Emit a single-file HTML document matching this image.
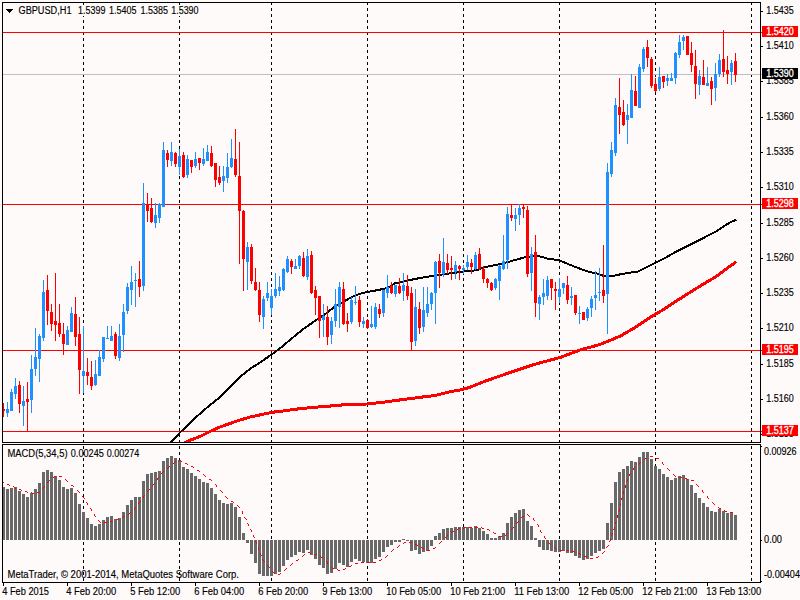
<!DOCTYPE html>
<html><head><meta charset="utf-8"><title>GBPUSD,H1</title>
<style>html,body{margin:0;padding:0;background:#FEFAF9;overflow:hidden}svg{display:block}text{font-family:"Liberation Sans",sans-serif;font-size:10px;fill:#000;stroke:#000;stroke-width:0.15px}</style>
</head><body>
<svg width="800" height="600" viewBox="0 0 800 600">
<g shape-rendering="crispEdges">
<rect x="0" y="0" width="800" height="600" fill="#FEFAF9"/>
<line x1="83.5" y1="2" x2="83.5" y2="442" stroke="#000" stroke-width="1" stroke-dasharray="3,3"/>
<line x1="83.5" y1="446" x2="83.5" y2="582" stroke="#000" stroke-width="1" stroke-dasharray="3,3"/>
<line x1="179.5" y1="2" x2="179.5" y2="442" stroke="#000" stroke-width="1" stroke-dasharray="3,3"/>
<line x1="179.5" y1="446" x2="179.5" y2="582" stroke="#000" stroke-width="1" stroke-dasharray="3,3"/>
<line x1="271.5" y1="2" x2="271.5" y2="442" stroke="#000" stroke-width="1" stroke-dasharray="3,3"/>
<line x1="271.5" y1="446" x2="271.5" y2="582" stroke="#000" stroke-width="1" stroke-dasharray="3,3"/>
<line x1="367.5" y1="2" x2="367.5" y2="442" stroke="#000" stroke-width="1" stroke-dasharray="3,3"/>
<line x1="367.5" y1="446" x2="367.5" y2="582" stroke="#000" stroke-width="1" stroke-dasharray="3,3"/>
<line x1="463.5" y1="2" x2="463.5" y2="442" stroke="#000" stroke-width="1" stroke-dasharray="3,3"/>
<line x1="463.5" y1="446" x2="463.5" y2="582" stroke="#000" stroke-width="1" stroke-dasharray="3,3"/>
<line x1="559.5" y1="2" x2="559.5" y2="442" stroke="#000" stroke-width="1" stroke-dasharray="3,3"/>
<line x1="559.5" y1="446" x2="559.5" y2="582" stroke="#000" stroke-width="1" stroke-dasharray="3,3"/>
<line x1="655.5" y1="2" x2="655.5" y2="442" stroke="#000" stroke-width="1" stroke-dasharray="3,3"/>
<line x1="655.5" y1="446" x2="655.5" y2="582" stroke="#000" stroke-width="1" stroke-dasharray="3,3"/>
<line x1="751.5" y1="2" x2="751.5" y2="442" stroke="#000" stroke-width="1" stroke-dasharray="3,3"/>
<line x1="751.5" y1="446" x2="751.5" y2="582" stroke="#000" stroke-width="1" stroke-dasharray="3,3"/>
<rect x="3" y="74" width="759" height="1" fill="#C0C0C0"/>
<rect x="3" y="32" width="759" height="1" fill="#FF0000"/>
<rect x="3" y="204" width="759" height="1" fill="#FF0000"/>
<rect x="3" y="350" width="759" height="1" fill="#FF0000"/>
<rect x="3" y="431" width="759" height="1" fill="#FF0000"/>
<clipPath id="mc"><rect x="3" y="3" width="757" height="439"/></clipPath>
<polyline clip-path="url(#mc)" points="184,443 188,441 200,436.5 210,431.5 220,427 230,423.5 240,420 251,416.8 263,414.25 272,412.3 281,411.25 297.5,409 315,407.25 332.5,405.85 350,404.2 367.5,404 385,402 402.5,399.6 420,397.3 435,395.5 450,391.75 460,390 470,387.3 485,381.25 510,372.5 535,364.25 560,357.5 580,350 600,344.5 620,336.25 635,327.5 650,317.5 663.3,309.65 677.3,300.4 691.3,291.6 705.3,282.9 715.8,276.75 726.3,268.9 736.3,261.7" fill="none" stroke="#FF0000" stroke-width="3" stroke-linejoin="round"/>
<polyline clip-path="url(#mc)" points="169.8,443 171,442 180,432.5 193,420 204,410 209,406 221,396.25 233,384.25 241.25,376 249.5,369.25 260,362.5 272,354.25 281,347.5 292,338.25 304,328.5 316,320.25 325,314.2 334,307.2 343,301.8 352,297 359.5,294 365.5,292.3 373,291 382,289.2 388,287.7 391.5,285.5 394.5,283.5 400,282.5 405,281 420,278 435,275.6 450,273.35 465,271.4 477,270.2 483,267.65 495,265.1 500,264.1 509,261.7 518,259.15 525.5,257.2 537.5,255.7 548,258.7 559.25,260.2 567.5,263.8 578,268 588.5,271.75 596,273.25 603.5,275.8 611,276.25 624,273.6 638,271.5 655.5,262.75 666,257.5 676.5,251.4 690.5,244.4 704.5,237.4 715,232.1 725.5,225.1 732,221.5 736.3,219.9" fill="none" stroke="#000" stroke-width="2" stroke-linejoin="round"/>
<path d="M7 402h1v15h-1zM6 409h3v4h-3zM11 389h1v22h-1zM10 392h3v19h-3zM15 378h1v21h-1zM14 386h3v8h-3zM23 386h1v40h-1zM22 401h3v5h-3zM31 355h1v58h-1zM30 369h3v31h-3zM35 328h1v48h-1zM34 357h3v12h-3zM39 334h1v48h-1zM38 336h3v23h-3zM43 280h1v61h-1zM42 292h3v46h-3zM67 326h1v19h-1zM66 330h3v15h-3zM71 307h1v25h-1zM70 313h3v19h-3zM83 326h1v67h-1zM82 371h3v5h-3zM95 360h1v26h-1zM94 374h3v11h-3zM99 350h1v26h-1zM98 357h3v19h-3zM103 337h1v25h-1zM102 337h3v22h-3zM107 326h1v13h-1zM106 338h3v1h-3zM111 326h1v15h-1zM110 336h3v5h-3zM119 324h1v37h-1zM118 336h3v22h-3zM123 304h1v48h-1zM122 312h3v23h-3zM127 283h1v31h-1zM126 287h3v24h-3zM131 266h1v39h-1zM130 282h3v8h-3zM135 273h1v34h-1zM134 280h3v1h-3zM143 183h1v108h-1zM142 203h3v83h-3zM155 203h1v25h-1zM154 215h3v8h-3zM159 203h1v20h-1zM158 204h3v14h-3zM163 142h1v65h-1zM162 150h3v57h-3zM171 142h1v24h-1zM170 152h3v9h-3zM179 149h1v26h-1zM178 156h3v11h-3zM187 155h1v23h-1zM186 159h3v16h-3zM195 152h1v16h-1zM194 159h3v7h-3zM203 148h1v18h-1zM202 159h3v5h-3zM207 145h1v16h-1zM206 152h3v9h-3zM223 166h1v26h-1zM222 176h3v5h-3zM227 153h1v30h-1zM226 167h3v11h-3zM231 139h1v29h-1zM230 158h3v9h-3zM247 242h1v48h-1zM246 247h3v15h-3zM263 296h1v33h-1zM262 299h3v18h-3zM267 282h1v19h-1zM266 293h3v5h-3zM271 289h1v26h-1zM270 296h3v12h-3zM275 273h1v25h-1zM274 289h3v7h-3zM279 276h1v20h-1zM278 287h3v4h-3zM283 268h1v23h-1zM282 269h3v21h-3zM287 256h1v17h-1zM286 259h3v13h-3zM295 259h1v10h-1zM294 266h3v3h-3zM299 255h1v14h-1zM298 256h3v10h-3zM307 249h1v31h-1zM306 256h3v21h-3zM323 304h1v33h-1zM322 316h3v4h-3zM331 317h1v27h-1zM330 321h3v14h-3zM335 289h1v38h-1zM334 304h3v17h-3zM339 282h1v46h-1zM338 287h3v20h-3zM351 297h1v27h-1zM350 300h3v22h-3zM355 286h1v19h-1zM354 302h3v1h-3zM363 317h1v11h-1zM362 321h3v3h-3zM371 306h1v22h-1zM370 324h3v3h-3zM375 303h1v26h-1zM374 307h3v20h-3zM383 290h1v27h-1zM382 290h3v23h-3zM387 275h1v23h-1zM386 287h3v6h-3zM395 285h1v12h-1zM394 285h3v9h-3zM403 273h1v28h-1zM402 285h3v6h-3zM415 289h1v57h-1zM414 307h3v34h-3zM423 287h1v45h-1zM422 310h3v17h-3zM427 287h1v30h-1zM426 304h3v9h-3zM431 292h1v18h-1zM430 293h3v11h-3zM435 261h1v63h-1zM434 262h3v31h-3zM443 238h1v39h-1zM442 262h3v12h-3zM455 261h1v18h-1zM454 265h3v7h-3zM463 265h1v9h-1zM462 268h3v2h-3zM467 255h1v15h-1zM466 262h3v5h-3zM475 252h1v18h-1zM474 255h3v14h-3zM495 278h1v12h-1zM494 279h3v9h-3zM499 265h1v35h-1zM498 266h3v15h-3zM503 235h1v35h-1zM502 261h3v8h-3zM507 207h1v62h-1zM506 214h3v46h-3zM515 208h1v23h-1zM514 215h3v4h-3zM519 204h1v21h-1zM518 208h3v7h-3zM531 247h1v44h-1zM530 254h3v19h-3zM539 295h1v25h-1zM538 297h3v7h-3zM543 279h1v26h-1zM542 293h3v4h-3zM547 276h1v24h-1zM546 280h3v16h-3zM559 278h1v25h-1zM558 289h3v8h-3zM563 283h1v11h-1zM562 283h3v5h-3zM571 287h1v18h-1zM570 296h3v2h-3zM579 306h1v18h-1zM578 313h3v1h-3zM587 307h1v14h-1zM586 309h3v9h-3zM591 296h1v21h-1zM590 299h3v9h-3zM595 271h1v39h-1zM594 295h3v3h-3zM599 268h1v33h-1zM598 292h3v1h-3zM607 163h1v171h-1zM606 172h3v122h-3zM611 142h1v35h-1zM610 150h3v24h-3zM615 98h1v58h-1zM614 105h3v48h-3zM627 104h1v40h-1zM626 115h3v5h-3zM631 74h1v44h-1zM630 90h3v28h-3zM639 64h1v44h-1zM638 67h3v41h-3zM643 47h1v25h-1zM642 49h3v20h-3zM659 67h1v24h-1zM658 77h3v12h-3zM667 74h1v12h-1zM666 78h3v3h-3zM671 73h1v8h-1zM670 78h3v3h-3zM675 52h1v32h-1zM674 53h3v25h-3zM679 35h1v23h-1zM678 42h3v13h-3zM683 35h1v15h-1zM682 37h3v4h-3zM699 70h1v25h-1zM698 76h3v9h-3zM707 67h1v19h-1zM706 83h3v3h-3zM715 63h1v38h-1zM714 74h3v14h-3zM719 54h1v23h-1zM718 60h3v14h-3zM731 60h1v25h-1zM730 63h3v9h-3z" fill="#1E90FF"/>
<path d="M3 403h1v14h-1zM2 409h3v2h-3zM19 381h1v32h-1zM18 385h3v19h-3zM27 382h1v49h-1zM26 399h3v3h-3zM47 275h1v50h-1zM46 290h3v21h-3zM51 304h1v27h-1zM50 312h3v12h-3zM55 273h1v68h-1zM54 321h3v4h-3zM59 304h1v33h-1zM58 323h3v11h-3zM63 323h1v32h-1zM62 334h3v10h-3zM75 297h1v49h-1zM74 314h3v23h-3zM79 317h1v77h-1zM78 334h3v36h-3zM87 358h1v27h-1zM86 372h3v4h-3zM91 361h1v29h-1zM90 377h3v9h-3zM115 332h1v27h-1zM114 334h3v22h-3zM139 261h1v36h-1zM138 279h3v8h-3zM147 193h1v29h-1zM146 205h3v6h-3zM151 198h1v25h-1zM150 208h3v14h-3zM167 150h1v17h-1zM166 153h3v7h-3zM175 152h1v15h-1zM174 153h3v11h-3zM183 152h1v26h-1zM182 155h3v22h-3zM191 160h1v13h-1zM190 160h3v7h-3zM199 158h1v12h-1zM198 158h3v5h-3zM211 146h1v21h-1zM210 153h3v13h-3zM215 163h1v24h-1zM214 163h3v17h-3zM219 166h1v19h-1zM218 177h3v6h-3zM235 129h1v48h-1zM234 159h3v16h-3zM239 142h1v122h-1zM238 176h3v35h-3zM243 210h1v81h-1zM242 211h3v48h-3zM251 244h1v40h-1zM250 247h3v34h-3zM255 268h1v23h-1zM254 282h3v8h-3zM259 282h1v40h-1zM258 290h3v25h-3zM291 259h1v15h-1zM290 261h3v6h-3zM303 252h1v25h-1zM302 258h3v18h-3zM311 251h1v43h-1zM310 255h3v38h-3zM315 286h1v29h-1zM314 290h3v8h-3zM319 296h1v42h-1zM318 296h3v25h-3zM327 306h1v39h-1zM326 317h3v20h-3zM343 282h1v43h-1zM342 289h3v35h-3zM347 313h1v19h-1zM346 321h3v3h-3zM359 296h1v31h-1zM358 300h3v22h-3zM367 319h1v10h-1zM366 320h3v8h-3zM379 304h1v14h-1zM378 309h3v5h-3zM391 282h1v12h-1zM390 286h3v7h-3zM399 278h1v16h-1zM398 286h3v7h-3zM407 275h1v25h-1zM406 286h3v10h-3zM411 287h1v63h-1zM410 293h3v49h-3zM419 302h1v32h-1zM418 309h3v19h-3zM439 254h1v34h-1zM438 261h3v12h-3zM447 254h1v20h-1zM446 263h3v7h-3zM451 256h1v24h-1zM450 268h3v2h-3zM459 265h1v15h-1zM458 266h3v3h-3zM471 259h1v15h-1zM470 263h3v4h-3zM479 248h1v22h-1zM478 254h3v15h-3zM483 266h1v17h-1zM482 269h3v10h-3zM487 278h1v10h-1zM486 279h3v4h-3zM491 282h1v9h-1zM490 283h3v7h-3zM511 204h1v17h-1zM510 215h3v3h-3zM523 204h1v14h-1zM522 207h3v2h-3zM527 206h1v71h-1zM526 210h3v64h-3zM535 235h1v82h-1zM534 252h3v51h-3zM551 279h1v21h-1zM550 279h3v9h-3zM555 282h1v28h-1zM554 289h3v2h-3zM567 276h1v28h-1zM566 285h3v15h-3zM575 295h1v20h-1zM574 295h3v18h-3zM583 312h1v8h-1zM582 312h3v8h-3zM603 245h1v58h-1zM602 290h3v6h-3zM619 78h1v56h-1zM618 107h3v8h-3zM623 100h1v26h-1zM622 112h3v13h-3zM635 76h1v30h-1zM634 91h3v15h-3zM647 40h1v27h-1zM646 47h3v11h-3zM651 57h1v31h-1zM650 59h3v27h-3zM655 78h1v14h-1zM654 84h3v7h-3zM663 76h1v12h-1zM662 76h3v6h-3zM687 36h1v19h-1zM686 36h3v19h-3zM691 42h1v30h-1zM690 53h3v12h-3zM695 50h1v49h-1zM694 66h3v18h-3zM703 60h1v25h-1zM702 77h3v8h-3zM711 77h1v28h-1zM710 81h3v8h-3zM723 30h1v47h-1zM722 59h3v13h-3zM727 56h1v28h-1zM726 70h3v4h-3zM735 53h1v29h-1zM734 61h3v14h-3z" fill="#FF0000"/>
<path d="M2 487h3v53h-3zM6 489h3v51h-3zM10 488h3v52h-3zM14 487h3v53h-3zM18 491h3v49h-3zM22 494h3v46h-3zM26 497h3v43h-3zM30 493h3v47h-3zM34 489h3v51h-3zM38 483h3v57h-3zM42 472h3v68h-3zM46 470h3v70h-3zM50 472h3v68h-3zM54 476h3v64h-3zM58 480h3v60h-3zM62 487h3v53h-3zM66 489h3v51h-3zM70 488h3v52h-3zM74 493h3v47h-3zM78 504h3v36h-3zM82 512h3v28h-3zM86 518h3v22h-3zM90 524h3v16h-3zM94 526h3v14h-3zM98 524h3v16h-3zM102 520h3v20h-3zM106 517h3v23h-3zM110 516h3v24h-3zM114 519h3v21h-3zM118 518h3v22h-3zM122 512h3v28h-3zM126 505h3v35h-3zM130 500h3v40h-3zM134 497h3v43h-3zM138 497h3v43h-3zM142 481h3v59h-3zM146 474h3v66h-3zM150 473h3v67h-3zM154 472h3v68h-3zM158 471h3v69h-3zM162 461h3v79h-3zM166 458h3v82h-3zM170 456h3v84h-3zM174 458h3v82h-3zM178 460h3v80h-3zM182 467h3v73h-3zM186 469h3v71h-3zM190 473h3v67h-3zM194 476h3v64h-3zM198 479h3v61h-3zM202 482h3v58h-3zM206 483h3v57h-3zM210 488h3v52h-3zM214 494h3v46h-3zM218 500h3v40h-3zM222 503h3v37h-3zM226 504h3v36h-3zM230 503h3v37h-3zM234 507h3v33h-3zM238 517h3v23h-3zM242 533h3v7h-3zM246 540h3v3h-3zM250 540h3v14h-3zM254 540h3v23h-3zM258 540h3v34h-3zM262 540h3v36h-3zM266 540h3v36h-3zM270 540h3v36h-3zM274 540h3v34h-3zM278 540h3v32h-3zM282 540h3v26h-3zM286 540h3v20h-3zM290 540h3v17h-3zM294 540h3v15h-3zM298 540h3v12h-3zM302 540h3v13h-3zM306 540h3v10h-3zM310 540h3v15h-3zM314 540h3v19h-3zM318 540h3v25h-3zM322 540h3v28h-3zM326 540h3v34h-3zM330 540h3v33h-3zM334 540h3v29h-3zM338 540h3v23h-3zM342 540h3v25h-3zM346 540h3v27h-3zM350 540h3v22h-3zM354 540h3v19h-3zM358 540h3v21h-3zM362 540h3v22h-3zM366 540h3v23h-3zM370 540h3v23h-3zM374 540h3v19h-3zM378 540h3v17h-3zM382 540h3v12h-3zM386 540h3v7h-3zM390 540h3v5h-3zM394 540h3v2h-3zM398 540h3v2h-3zM402 539h3v1h-3zM406 540h3v1h-3zM410 540h3v11h-3zM414 540h3v10h-3zM418 540h3v14h-3zM422 540h3v12h-3zM426 540h3v11h-3zM430 540h3v6h-3zM434 536h3v4h-3zM438 533h3v7h-3zM442 529h3v11h-3zM446 528h3v12h-3zM450 528h3v12h-3zM454 527h3v13h-3zM458 527h3v13h-3zM462 527h3v13h-3zM466 527h3v13h-3zM470 528h3v12h-3zM474 526h3v14h-3zM478 528h3v12h-3zM482 531h3v9h-3zM486 534h3v6h-3zM490 538h3v2h-3zM494 538h3v2h-3zM498 536h3v4h-3zM502 533h3v7h-3zM506 523h3v17h-3zM510 517h3v23h-3zM514 513h3v27h-3zM518 510h3v30h-3zM522 509h3v31h-3zM526 521h3v19h-3zM530 526h3v14h-3zM534 538h3v2h-3zM538 540h3v7h-3zM542 540h3v10h-3zM546 540h3v10h-3zM550 540h3v11h-3zM554 540h3v12h-3zM558 540h3v12h-3zM562 540h3v11h-3zM566 540h3v13h-3zM570 540h3v13h-3zM574 540h3v16h-3zM578 540h3v18h-3zM582 540h3v20h-3zM586 540h3v19h-3zM590 540h3v16h-3zM594 540h3v13h-3zM598 540h3v11h-3zM602 540h3v9h-3zM606 523h3v17h-3zM610 503h3v37h-3zM614 482h3v58h-3zM618 472h3v68h-3zM622 469h3v71h-3zM626 466h3v74h-3zM630 461h3v79h-3zM634 462h3v78h-3zM638 457h3v83h-3zM642 452h3v88h-3zM646 452h3v88h-3zM650 459h3v81h-3zM654 466h3v74h-3zM658 469h3v71h-3zM662 474h3v66h-3zM666 477h3v63h-3zM670 480h3v60h-3zM674 478h3v62h-3zM678 476h3v64h-3zM682 475h3v65h-3zM686 479h3v61h-3zM690 485h3v55h-3zM694 493h3v47h-3zM698 498h3v42h-3zM702 503h3v37h-3zM706 507h3v33h-3zM710 511h3v29h-3zM714 512h3v28h-3zM718 509h3v31h-3zM722 511h3v29h-3zM726 513h3v27h-3zM730 513h3v27h-3zM734 515h3v25h-3z" fill="#696969"/>
<path d="M3 482h1v1h-1zM7 484h1v1h-1zM8 484h1v1h-1zM9 485h1v1h-1zM13 486h1v1h-1zM14 487h1v1h-1zM15 488h1v1h-1zM19 489h1v1h-1zM20 489h1v1h-1zM21 490h1v1h-1zM25 491h1v1h-1zM26 491h1v1h-1zM27 492h1v1h-1zM31 492h1v1h-1zM32 493h1v1h-1zM33 493h1v1h-1zM37 492h1v1h-1zM38 492h1v1h-1zM39 492h1v1h-1zM42 488h1v1h-1zM43 487h1v1h-1zM44 486h1v1h-1zM47 482h1v1h-1zM48 481h1v1h-1zM49 480h1v1h-1zM53 477h1v1h-1zM54 476h1v1h-1zM55 476h1v1h-1zM59 476h1v1h-1zM60 476h1v1h-1zM61 476h1v1h-1zM65 479h1v1h-1zM66 480h1v1h-1zM67 481h1v1h-1zM71 485h1v1h-1zM72 485h1v1h-1zM73 486h1v1h-1zM77 490h1v1h-1zM78 491h1v1h-1zM79 492h1v1h-1zM82 496h1v1h-1zM83 497h1v1h-1zM84 498h1v1h-1zM86 502h1v1h-1zM87 503h1v1h-1zM87 504h1v1h-1zM90 508h1v1h-1zM91 509h1v1h-1zM91 510h1v1h-1zM94 514h1v1h-1zM94 515h1v1h-1zM95 516h1v1h-1zM98 520h1v1h-1zM99 521h1v1h-1zM100 522h1v1h-1zM104 522h1v1h-1zM105 522h1v1h-1zM106 522h1v1h-1zM110 521h1v1h-1zM111 521h1v1h-1zM112 521h1v1h-1zM116 519h1v1h-1zM117 519h1v1h-1zM118 518h1v1h-1zM122 517h1v1h-1zM123 516h1v1h-1zM124 516h1v1h-1zM128 514h1v1h-1zM129 513h1v1h-1zM130 512h1v1h-1zM134 509h1v1h-1zM134 508h1v1h-1zM135 507h1v1h-1zM138 503h1v1h-1zM139 502h1v1h-1zM140 501h1v1h-1zM143 497h1v1h-1zM143 496h1v1h-1zM144 495h1v1h-1zM147 491h1v1h-1zM148 490h1v1h-1zM149 489h1v1h-1zM152 485h1v1h-1zM153 484h1v1h-1zM154 483h1v1h-1zM157 479h1v1h-1zM157 478h1v1h-1zM158 477h1v1h-1zM161 473h1v1h-1zM162 472h1v1h-1zM163 471h1v1h-1zM167 468h1v1h-1zM168 467h1v1h-1zM169 466h1v1h-1zM173 463h1v1h-1zM174 462h1v1h-1zM175 461h1v1h-1zM179 460h1v1h-1zM180 460h1v1h-1zM181 461h1v1h-1zM185 463h1v1h-1zM186 463h1v1h-1zM187 464h1v1h-1zM191 466h1v1h-1zM192 466h1v1h-1zM193 467h1v1h-1zM197 470h1v1h-1zM198 470h1v1h-1zM199 471h1v1h-1zM203 474h1v1h-1zM204 475h1v1h-1zM205 476h1v1h-1zM209 479h1v1h-1zM210 479h1v1h-1zM211 480h1v1h-1zM215 484h1v1h-1zM216 485h1v1h-1zM216 486h1v1h-1zM220 490h1v1h-1zM221 491h1v1h-1zM222 492h1v1h-1zM225 496h1v1h-1zM226 497h1v1h-1zM227 498h1v1h-1zM231 501h1v1h-1zM232 501h1v1h-1zM233 502h1v1h-1zM237 505h1v1h-1zM238 506h1v1h-1zM239 507h1v1h-1zM242 511h1v1h-1zM242 512h1v1h-1zM242 513h1v1h-1zM244 517h1v1h-1zM245 518h1v1h-1zM246 519h1v1h-1zM247 523h1v1h-1zM248 524h1v1h-1zM248 525h1v1h-1zM250 529h1v1h-1zM251 530h1v1h-1zM251 531h1v1h-1zM253 535h1v1h-1zM253 536h1v1h-1zM254 537h1v1h-1zM255 541h1v1h-1zM256 542h1v1h-1zM256 543h1v1h-1zM258 547h1v1h-1zM258 548h1v1h-1zM258 549h1v1h-1zM260 553h1v1h-1zM260 554h1v1h-1zM261 555h1v1h-1zM262 559h1v1h-1zM263 560h1v1h-1zM264 561h1v1h-1zM267 565h1v1h-1zM268 566h1v1h-1zM269 567h1v1h-1zM272 571h1v1h-1zM273 572h1v1h-1zM274 573h1v1h-1zM278 574h1v1h-1zM279 574h1v1h-1zM280 573h1v1h-1zM284 570h1v1h-1zM285 569h1v1h-1zM286 568h1v1h-1zM290 565h1v1h-1zM291 564h1v1h-1zM292 563h1v1h-1zM296 560h1v1h-1zM297 560h1v1h-1zM298 559h1v1h-1zM302 556h1v1h-1zM303 555h1v1h-1zM304 554h1v1h-1zM308 552h1v1h-1zM309 552h1v1h-1zM310 553h1v1h-1zM314 554h1v1h-1zM315 554h1v1h-1zM316 554h1v1h-1zM320 556h1v1h-1zM321 557h1v1h-1zM322 557h1v1h-1zM326 561h1v1h-1zM327 562h1v1h-1zM327 563h1v1h-1zM331 567h1v1h-1zM332 568h1v1h-1zM333 568h1v1h-1zM337 569h1v1h-1zM338 570h1v1h-1zM339 570h1v1h-1zM343 569h1v1h-1zM344 569h1v1h-1zM345 568h1v1h-1zM349 566h1v1h-1zM350 566h1v1h-1zM351 565h1v1h-1zM355 563h1v1h-1zM356 563h1v1h-1zM357 563h1v1h-1zM361 562h1v1h-1zM362 562h1v1h-1zM363 562h1v1h-1zM367 562h1v1h-1zM368 562h1v1h-1zM369 562h1v1h-1zM373 562h1v1h-1zM374 562h1v1h-1zM375 562h1v1h-1zM379 560h1v1h-1zM380 560h1v1h-1zM381 559h1v1h-1zM385 557h1v1h-1zM386 556h1v1h-1zM387 555h1v1h-1zM391 551h1v1h-1zM392 550h1v1h-1zM393 549h1v1h-1zM397 547h1v1h-1zM398 546h1v1h-1zM399 545h1v1h-1zM403 543h1v1h-1zM404 542h1v1h-1zM405 542h1v1h-1zM409 542h1v1h-1zM410 542h1v1h-1zM411 542h1v1h-1zM415 544h1v1h-1zM416 544h1v1h-1zM417 545h1v1h-1zM421 547h1v1h-1zM422 548h1v1h-1zM423 548h1v1h-1zM427 550h1v1h-1zM428 550h1v1h-1zM429 550h1v1h-1zM433 548h1v1h-1zM434 548h1v1h-1zM435 547h1v1h-1zM439 543h1v1h-1zM440 542h1v1h-1zM441 541h1v1h-1zM445 537h1v1h-1zM446 536h1v1h-1zM447 535h1v1h-1zM451 532h1v1h-1zM452 531h1v1h-1zM453 531h1v1h-1zM457 529h1v1h-1zM458 528h1v1h-1zM459 528h1v1h-1zM463 528h1v1h-1zM464 527h1v1h-1zM465 527h1v1h-1zM469 527h1v1h-1zM470 527h1v1h-1zM471 527h1v1h-1zM475 527h1v1h-1zM476 527h1v1h-1zM477 527h1v1h-1zM481 527h1v1h-1zM482 528h1v1h-1zM483 528h1v1h-1zM487 529h1v1h-1zM488 529h1v1h-1zM489 530h1v1h-1zM493 532h1v1h-1zM494 533h1v1h-1zM495 533h1v1h-1zM499 536h1v1h-1zM500 536h1v1h-1zM501 536h1v1h-1zM505 535h1v1h-1zM506 534h1v1h-1zM507 533h1v1h-1zM511 529h1v1h-1zM512 528h1v1h-1zM513 527h1v1h-1zM516 523h1v1h-1zM517 522h1v1h-1zM518 521h1v1h-1zM521 517h1v1h-1zM522 516h1v1h-1zM523 516h1v1h-1zM527 514h1v1h-1zM528 515h1v1h-1zM529 516h1v1h-1zM533 518h1v1h-1zM533 519h1v1h-1zM534 520h1v1h-1zM537 524h1v1h-1zM538 525h1v1h-1zM538 526h1v1h-1zM540 530h1v1h-1zM540 531h1v1h-1zM541 532h1v1h-1zM544 536h1v1h-1zM544 537h1v1h-1zM545 538h1v1h-1zM548 542h1v1h-1zM549 543h1v1h-1zM550 544h1v1h-1zM554 547h1v1h-1zM555 548h1v1h-1zM556 549h1v1h-1zM560 550h1v1h-1zM561 550h1v1h-1zM562 550h1v1h-1zM566 550h1v1h-1zM567 550h1v1h-1zM568 550h1v1h-1zM572 551h1v1h-1zM573 551h1v1h-1zM574 552h1v1h-1zM578 553h1v1h-1zM579 553h1v1h-1zM580 554h1v1h-1zM584 556h1v1h-1zM585 556h1v1h-1zM586 556h1v1h-1zM590 558h1v1h-1zM591 558h1v1h-1zM592 558h1v1h-1zM596 557h1v1h-1zM597 557h1v1h-1zM598 556h1v1h-1zM602 553h1v1h-1zM603 552h1v1h-1zM604 551h1v1h-1zM606 547h1v1h-1zM607 546h1v1h-1zM608 545h1v1h-1zM609 541h1v1h-1zM610 540h1v1h-1zM610 539h1v1h-1zM611 535h1v1h-1zM612 534h1v1h-1zM612 533h1v1h-1zM613 529h1v1h-1zM614 528h1v1h-1zM614 527h1v1h-1zM615 523h1v1h-1zM615 522h1v1h-1zM616 521h1v1h-1zM617 517h1v1h-1zM617 516h1v1h-1zM617 515h1v1h-1zM618 511h1v1h-1zM619 510h1v1h-1zM619 509h1v1h-1zM620 505h1v1h-1zM620 504h1v1h-1zM620 503h1v1h-1zM621 499h1v1h-1zM621 498h1v1h-1zM622 497h1v1h-1zM623 493h1v1h-1zM623 492h1v1h-1zM623 491h1v1h-1zM625 487h1v1h-1zM625 486h1v1h-1zM625 485h1v1h-1zM626 481h1v1h-1zM627 480h1v1h-1zM627 479h1v1h-1zM629 475h1v1h-1zM629 474h1v1h-1zM630 473h1v1h-1zM633 469h1v1h-1zM633 468h1v1h-1zM634 467h1v1h-1zM638 464h1v1h-1zM639 463h1v1h-1zM640 462h1v1h-1zM644 459h1v1h-1zM645 458h1v1h-1zM646 458h1v1h-1zM650 456h1v1h-1zM651 456h1v1h-1zM652 456h1v1h-1zM656 458h1v1h-1zM657 458h1v1h-1zM658 458h1v1h-1zM662 462h1v1h-1zM662 463h1v1h-1zM663 464h1v1h-1zM667 468h1v1h-1zM668 469h1v1h-1zM669 470h1v1h-1zM673 474h1v1h-1zM674 475h1v1h-1zM675 476h1v1h-1zM679 477h1v1h-1zM680 477h1v1h-1zM681 477h1v1h-1zM685 478h1v1h-1zM686 478h1v1h-1zM687 479h1v1h-1zM691 480h1v1h-1zM692 480h1v1h-1zM693 480h1v1h-1zM696 484h1v1h-1zM697 485h1v1h-1zM698 486h1v1h-1zM702 490h1v1h-1zM702 491h1v1h-1zM703 492h1v1h-1zM707 496h1v1h-1zM707 497h1v1h-1zM708 498h1v1h-1zM712 502h1v1h-1zM713 503h1v1h-1zM714 504h1v1h-1zM718 507h1v1h-1zM719 508h1v1h-1zM720 508h1v1h-1zM724 510h1v1h-1zM725 511h1v1h-1zM726 511h1v1h-1zM730 512h1v1h-1zM731 512h1v1h-1zM732 512h1v1h-1z" fill="#FF0000"/>
<rect x="2.5" y="2.5" width="758" height="440" fill="none" stroke="#000" stroke-width="1"/>
<rect x="2.5" y="444.5" width="758" height="138" fill="none" stroke="#000" stroke-width="1"/>
<rect x="761" y="11" width="2" height="1" fill="#000"/>
<rect x="761" y="46" width="2" height="1" fill="#000"/>
<rect x="761" y="81" width="2" height="1" fill="#000"/>
<rect x="761" y="117" width="2" height="1" fill="#000"/>
<rect x="761" y="152" width="2" height="1" fill="#000"/>
<rect x="761" y="187" width="2" height="1" fill="#000"/>
<rect x="761" y="223" width="2" height="1" fill="#000"/>
<rect x="761" y="258" width="2" height="1" fill="#000"/>
<rect x="761" y="293" width="2" height="1" fill="#000"/>
<rect x="761" y="328" width="2" height="1" fill="#000"/>
<rect x="761" y="364" width="2" height="1" fill="#000"/>
<rect x="761" y="399" width="2" height="1" fill="#000"/>
<rect x="761" y="434" width="2" height="1" fill="#000"/>
<rect x="761" y="446" width="1" height="1" fill="#000"/>
<rect x="761" y="540" width="1" height="1" fill="#000"/>
<rect x="761" y="581" width="1" height="1" fill="#000"/>
<rect x="3" y="583" width="1" height="3" fill="#000"/>
<rect x="67" y="583" width="1" height="3" fill="#000"/>
<rect x="131" y="583" width="1" height="3" fill="#000"/>
<rect x="195" y="583" width="1" height="3" fill="#000"/>
<rect x="259" y="583" width="1" height="3" fill="#000"/>
<rect x="323" y="583" width="1" height="3" fill="#000"/>
<rect x="387" y="583" width="1" height="3" fill="#000"/>
<rect x="451" y="583" width="1" height="3" fill="#000"/>
<rect x="515" y="583" width="1" height="3" fill="#000"/>
<rect x="579" y="583" width="1" height="3" fill="#000"/>
<rect x="643" y="583" width="1" height="3" fill="#000"/>
<rect x="707" y="583" width="1" height="3" fill="#000"/>
<path d="M6 9h7v1h-1v1h-1v1h-1v1h-1v-1h-1v-1h-1v-1h-1z" fill="#000"/>
<rect x="18" y="5" width="180" height="11" fill="#FEFAF9"/>
</g>
<g>
<text x="18.5" y="13.5" textLength="53" lengthAdjust="spacingAndGlyphs">GBPUSD,H1</text>
<text x="78.0" y="13.5" textLength="27.4" lengthAdjust="spacingAndGlyphs">1.5399</text>
<text x="109.0" y="13.5" textLength="27.4" lengthAdjust="spacingAndGlyphs">1.5405</text>
<text x="140.5" y="13.5" textLength="27.4" lengthAdjust="spacingAndGlyphs">1.5385</text>
<text x="171.2" y="13.5" textLength="27.4" lengthAdjust="spacingAndGlyphs">1.5390</text>
<text x="766.3" y="14.4" textLength="27.4" lengthAdjust="spacingAndGlyphs">1.5435</text>
<text x="766.3" y="49.4" textLength="27.4" lengthAdjust="spacingAndGlyphs">1.5410</text>
<text x="766.3" y="84.4" textLength="27.4" lengthAdjust="spacingAndGlyphs">1.5385</text>
<text x="766.3" y="120.4" textLength="27.4" lengthAdjust="spacingAndGlyphs">1.5360</text>
<text x="766.3" y="155.4" textLength="27.4" lengthAdjust="spacingAndGlyphs">1.5335</text>
<text x="766.3" y="190.4" textLength="27.4" lengthAdjust="spacingAndGlyphs">1.5310</text>
<text x="766.3" y="226.4" textLength="27.4" lengthAdjust="spacingAndGlyphs">1.5285</text>
<text x="766.3" y="261.4" textLength="27.4" lengthAdjust="spacingAndGlyphs">1.5260</text>
<text x="766.3" y="296.4" textLength="27.4" lengthAdjust="spacingAndGlyphs">1.5235</text>
<text x="766.3" y="331.4" textLength="27.4" lengthAdjust="spacingAndGlyphs">1.5210</text>
<text x="766.3" y="367.4" textLength="27.4" lengthAdjust="spacingAndGlyphs">1.5185</text>
<text x="766.3" y="402.4" textLength="27.4" lengthAdjust="spacingAndGlyphs">1.5160</text>
<text x="766.3" y="437.4" textLength="27.4" lengthAdjust="spacingAndGlyphs">1.5135</text>
<g shape-rendering="crispEdges">
<rect x="762" y="26" width="36" height="11" fill="#FF0000"/>
<rect x="762" y="198" width="36" height="11" fill="#FF0000"/>
<rect x="762" y="344" width="36" height="11" fill="#FF0000"/>
<rect x="762" y="425" width="36" height="11" fill="#FF0000"/>
<rect x="762" y="68" width="36" height="11" fill="#000"/>
</g>
<text x="766.3" y="35.4" textLength="27.4" lengthAdjust="spacingAndGlyphs" style="fill:#fff;stroke:#fff;stroke-width:0.3px">1.5420</text>
<text x="766.3" y="207.4" textLength="27.4" lengthAdjust="spacingAndGlyphs" style="fill:#fff;stroke:#fff;stroke-width:0.3px">1.5298</text>
<text x="766.3" y="353.4" textLength="27.4" lengthAdjust="spacingAndGlyphs" style="fill:#fff;stroke:#fff;stroke-width:0.3px">1.5195</text>
<text x="766.3" y="434.4" textLength="27.4" lengthAdjust="spacingAndGlyphs" style="fill:#fff;stroke:#fff;stroke-width:0.3px">1.5137</text>
<text x="766.3" y="77.4" textLength="27.4" lengthAdjust="spacingAndGlyphs" style="fill:#fff;stroke:#fff;stroke-width:0.3px">1.5390</text>
<text x="764" y="454.8" textLength="32.6" lengthAdjust="spacingAndGlyphs">0.00926</text>
<text x="764" y="543.3" textLength="18" lengthAdjust="spacingAndGlyphs">0.00</text>
<text x="764" y="578.4" textLength="36" lengthAdjust="spacingAndGlyphs">-0.00404</text>
<text x="7.4" y="457" textLength="60.2" lengthAdjust="spacingAndGlyphs">MACD(5,34,5)</text>
<text x="70.8" y="457" textLength="33" lengthAdjust="spacingAndGlyphs">0.00245</text>
<text x="106.8" y="457" textLength="32.6" lengthAdjust="spacingAndGlyphs">0.00274</text>
<text x="7.5" y="577.8" textLength="231.5" lengthAdjust="spacingAndGlyphs">MetaTrader, © 2001-2014, MetaQuotes Software Corp.</text>
<text x="2.2" y="594.6" textLength="46.8" lengthAdjust="spacingAndGlyphs">4 Feb 2015</text>
<text x="66.2" y="594.6" textLength="50.0" lengthAdjust="spacingAndGlyphs">4 Feb 20:00</text>
<text x="130.2" y="594.6" textLength="50.0" lengthAdjust="spacingAndGlyphs">5 Feb 12:00</text>
<text x="194.2" y="594.6" textLength="50.0" lengthAdjust="spacingAndGlyphs">6 Feb 04:00</text>
<text x="258.2" y="594.6" textLength="50.0" lengthAdjust="spacingAndGlyphs">6 Feb 20:00</text>
<text x="322.2" y="594.6" textLength="50.0" lengthAdjust="spacingAndGlyphs">9 Feb 13:00</text>
<text x="386.2" y="594.6" textLength="55.0" lengthAdjust="spacingAndGlyphs">10 Feb 05:00</text>
<text x="450.2" y="594.6" textLength="55.0" lengthAdjust="spacingAndGlyphs">10 Feb 21:00</text>
<text x="514.2" y="594.6" textLength="55.0" lengthAdjust="spacingAndGlyphs">11 Feb 13:00</text>
<text x="578.2" y="594.6" textLength="55.0" lengthAdjust="spacingAndGlyphs">12 Feb 05:00</text>
<text x="642.2" y="594.6" textLength="55.0" lengthAdjust="spacingAndGlyphs">12 Feb 21:00</text>
<text x="706.2" y="594.6" textLength="55.0" lengthAdjust="spacingAndGlyphs">13 Feb 13:00</text>
</g>
</svg></body></html>
